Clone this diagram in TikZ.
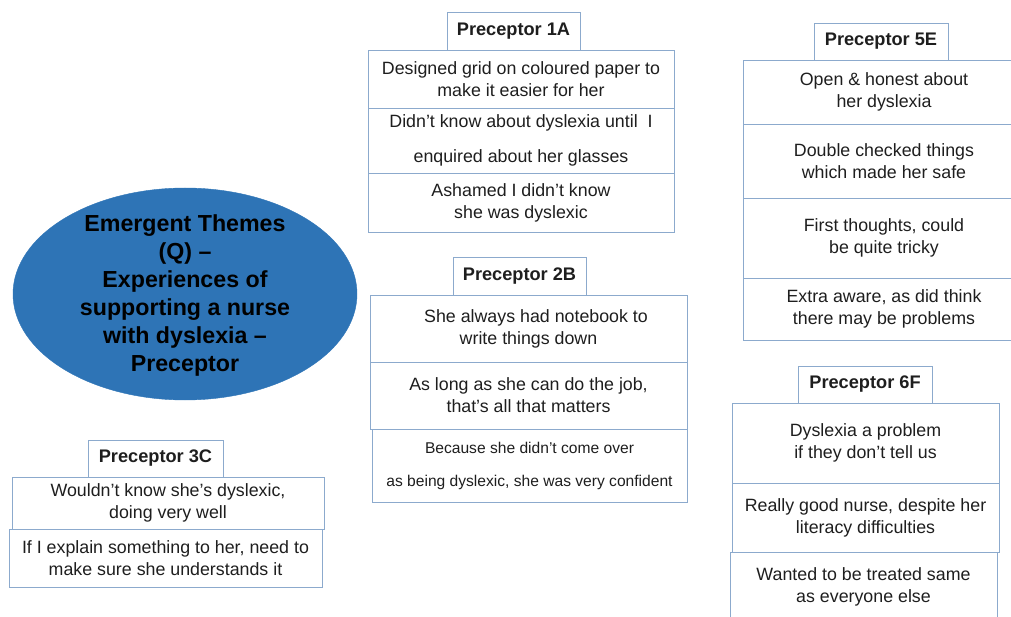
\documentclass[tikz,border=0pt]{standalone}
\usepackage{fontspec}
\setmainfont{Liberation Sans}
\usetikzlibrary{shapes.geometric}
\definecolor{bordercol}{RGB}{140,170,205}
\definecolor{ellfill}{RGB}{46,116,182}
\definecolor{txt}{RGB}{30,30,30}
\begin{document}
\begin{tikzpicture}[x=1pt,y=-1pt,
  cell/.style={draw=bordercol,line width=0.9pt,align=center,inner sep=0pt,text=txt,
    font=\fontsize{17.8}{22}\selectfont},
  wide/.style={font=\fontsize{17.8}{35}\selectfont},
  small/.style={font=\fontsize{15.6}{33}\selectfont},
  title/.style={draw=bordercol,line width=0.9pt,align=center,inner sep=0pt,text=txt,
    font=\fontsize{18.2}{22}\selectfont\bfseries,fill=white},
  theme/.style={ellipse,fill=ellfill,draw=ellfill,align=center,inner sep=0pt,text=black,
    font=\fontsize{23.2}{28}\selectfont\bfseries}
]
\useasboundingbox (0,0) rectangle (1011,617);
\clip (0,0) rectangle (1011,617);

% central theme
\node[theme,minimum width=344pt,minimum height=212pt] (theme) at (185,294) {};
\node[align=center,inner sep=0pt,text=black,font=\fontsize{23.2}{28}\selectfont\bfseries] (themetext) at (185,296)
  {Emergent Themes\\(Q) –\\Experiences of\\supporting a nurse\\with dyslexia –\\Preceptor};

% Preceptor 1A
\node[cell,minimum width=306pt,minimum height=58pt] (a1) at (521,79) {Designed grid on coloured paper to\\make it easier for her};
\node[cell,wide,minimum width=306pt,minimum height=65pt] (a2) at (521,140.5) {Didn’t know about dyslexia until\ \ I\\enquired about her glasses};
\node[cell,minimum width=306pt,minimum height=59pt] (a3) at (521,202.5) {Ashamed I didn’t know\\she was dyslexic};
\node[title,minimum width=133pt,minimum height=38pt] (ta) at (513.5,31) {Preceptor 1A};

% Preceptor 2B
\node[cell,minimum width=317pt,minimum height=67pt] (b1) at (528.5,328.5) {\hspace*{15pt}She always had notebook to\\write things down};
\node[cell,minimum width=317pt,minimum height=67pt] (b2) at (528.5,395.5) {As long as she can do the job,\\that’s all that matters};
\node[cell,small,minimum width=315pt,minimum height=73pt] (b3) at (529.5,465.5) {Because she didn’t come over\\as being dyslexic, she was very confident};
\node[title,minimum width=133pt,minimum height=38pt] (tb) at (519.5,276) {Preceptor 2B};

% Preceptor 3C
\node[cell,minimum width=312pt,minimum height=52pt] (c1) at (168,503) {Wouldn’t know she’s dyslexic,\\doing very well};
\node[cell,minimum width=313pt,minimum height=58pt] (c2) at (165.5,558) {If I explain something to her, need to\\make sure she understands it};
\node[title,minimum width=135pt,minimum height=37pt] (tc) at (155.5,458.5) {Preceptor 3C};

% Preceptor 5E
\node[cell,minimum width=282pt,minimum height=64pt] (e1) at (884,92) {Open \& honest about\\her dyslexia};
\node[cell,minimum width=282pt,minimum height=74pt] (e2) at (884,161) {Double checked things\\which made her safe};
\node[cell,minimum width=282pt,minimum height=80pt] (e3) at (884,238) {First thoughts, could\\be quite tricky};
\node[cell,minimum width=282pt,minimum height=62pt] (e4) at (884,309) {Extra aware, as did think\\there may be problems};
\node[title,minimum width=134pt,minimum height=37pt] (te) at (881,41.5) {Preceptor 5E};

% Preceptor 6F
\node[cell,minimum width=267pt,minimum height=80pt] (f1) at (865.5,443) {Dyslexia a problem\\if they don’t tell us};
\node[cell,minimum width=267pt,minimum height=69pt] (f2) at (865.5,517.5) {Really good nurse, despite her\\literacy difficulties};
\node[cell,minimum width=267pt,minimum height=70pt] (f3) at (863.5,587) {Wanted to be treated same\\as everyone else};
\node[title,minimum width=134pt,minimum height=37pt] (tf) at (865,384.5) {Preceptor 6F};
\end{tikzpicture}
\end{document}
